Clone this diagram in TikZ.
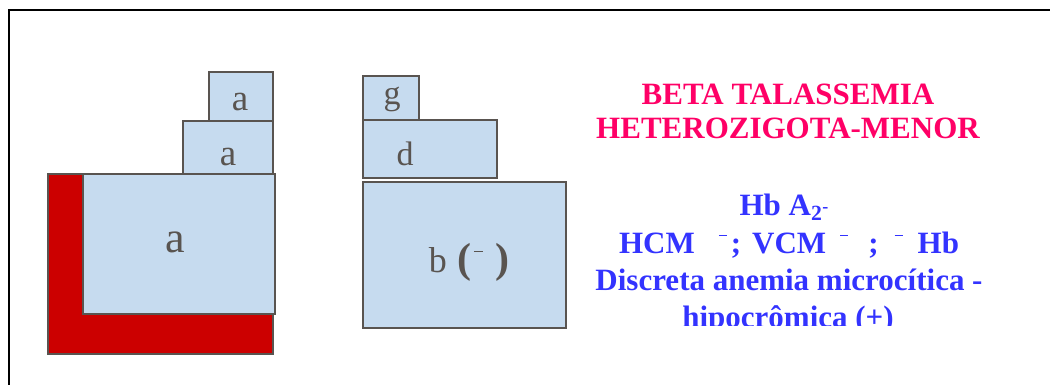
\documentclass[tikz,border=0pt]{standalone}
\usepackage{fontspec}
\setmainfont{Liberation Serif}
\definecolor{cellblue}{RGB}{198,219,239}
\definecolor{edgegray}{RGB}{89,84,80}
\definecolor{labelgray}{RGB}{89,84,80}
\definecolor{lred}{RGB}{204,0,0}
\definecolor{titlepink}{RGB}{255,0,102}
\definecolor{notesblue}{RGB}{51,51,255}
\usepackage{tikz}
\usetikzlibrary{positioning}
\newcommand{\minusmark}{\raisebox{0.55em}{\rule{0.26em}{1.1pt}}}

\begin{document}
\begin{tikzpicture}[
  x=1pt, y=-1pt,
  cell/.style={draw=edgegray, line width=1.5pt, fill=cellblue, inner sep=0pt},
  redcell/.style={cell, fill=lred},
  glyph/.style={anchor=base, inner sep=0pt, text=labelgray, font=\fontsize{34}{34}\selectfont},
  title/.style={anchor=base, inner sep=0pt, text=titlepink, font=\fontsize{31}{31}\selectfont\bfseries},
  note/.style={anchor=base, inner sep=0pt, text=notesblue, font=\fontsize{31}{31}\selectfont\bfseries}
]
  \useasboundingbox (0,0) rectangle (1050,385);

  % Frame (only top and left edges visible)
  \draw[line width=2pt] (9,385) |- (1050,10);

  % Alpha chains, with the red L behind the big one
  \node[redcell, minimum width=225, minimum height=180] (red) at (160.5,264) {};
  \node[cell, minimum width=192, minimum height=140] (alpha3) at (179,244) {};
  \node[cell, minimum width=90, minimum height=53] (alpha2) at (228,147.5) {};
  \node[cell, minimum width=64, minimum height=49] (alpha1) at (241,96.5) {};

  \node[glyph, font=\fontsize{44}{44}\selectfont] (a3) at (175,252) {a};
  \node[glyph, font=\fontsize{37}{37}\selectfont] (a2) at (228,166) {a};
  \node[glyph, font=\fontsize{37}{37}\selectfont] (a1) at (240,111) {a};

  % Gamma, delta, beta chains
  \node[cell, minimum width=56, minimum height=44] (gamma) at (391,98) {};
  \node[cell, minimum width=134, minimum height=58] (delta) at (430,149) {};
  \node[cell, minimum width=203, minimum height=146] (beta) at (464.5,255) {};

  \node[glyph] (g) at (392,105) {g};
  \node[glyph] (d) at (405,165) {d};
  \node[glyph, font=\fontsize{36}{36}\selectfont] (b) at (469,272)
    {b\hspace{11pt}{\fontsize{42}{42}\selectfont\bfseries(}\hspace{2pt}\minusmark\hspace{12pt}{\fontsize{42}{42}\selectfont\bfseries)}};

  % Title
  \node[title] (title1) at (788,105) {BETA TALASSEMIA};
  \node[title] (title2) at (788,139) {HETEROZIGOTA-MENOR};

  % Findings (last line cut off by its frame)
  \begin{scope}
    \clip (560,0) rectangle (1050,325);
    \node[note] (hb) at (784,215)
      {Hb A\textsubscript{2}\raisebox{3pt}{\fontsize{18}{18}\selectfont -}};
    \node[note] (hcm) at (789,253)
      {HCM\hspace{24pt}\minusmark\hspace{4pt};\hspace{11pt}VCM\hspace{14pt}\minusmark\hspace{20pt};\hspace{16pt}\minusmark\hspace{15pt}Hb};
    \node[note] (disc) at (789,290) {Discreta anemia microcítica -};
    \node[note] (hipo) at (788,327) {hipocrômica (+)};
  \end{scope}
\end{tikzpicture}
\end{document}
